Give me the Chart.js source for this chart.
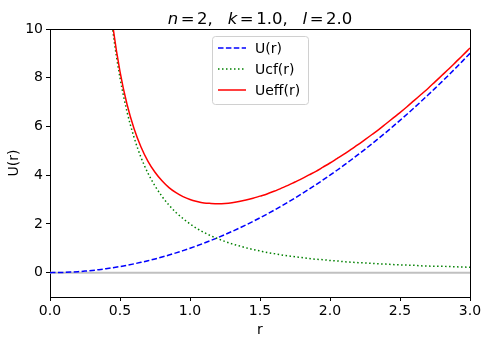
<!DOCTYPE html>
<html><head><meta charset="utf-8">
<script src="https://cdn.jsdelivr.net/npm/chart.js@4/dist/chart.umd.min.js"></script>
<style>html,body{margin:0;padding:0;background:#fff}</style>
</head><body>
<canvas id="c" width="488" height="344"></canvas>
<script>
// ---- data ----
const rValues = [0,0.05,0.1,0.15,0.2,0.25,0.3,0.35,0.4,0.45,
  0.5,0.55,0.6,0.65,0.7,0.75,0.8,0.85,0.9,0.95,
  1.0,1.05,1.1,1.15,1.2,1.25,1.3,1.35,1.4,1.45,
  1.5,1.55,1.6,1.65,1.7,1.75,1.8,1.85,1.9,1.95,
  2.0,2.05,2.1,2.15,2.2,2.25,2.3,2.35,2.4,2.45,
  2.5,2.55,2.6,2.65,2.7,2.75,2.8,2.85,2.9,2.95,3.0];
const uValues = [0,0.0025,0.01,0.0225,0.04,0.0625,0.09,0.1225,0.16,0.2025,
  0.25,0.3025,0.36,0.4225,0.49,0.5625,0.64,0.7225,0.81,0.9025,
  1,1.1025,1.21,1.3225,1.44,1.5625,1.69,1.8225,1.96,2.1025,
  2.25,2.4025,2.56,2.7225,2.89,3.0625,3.24,3.4225,3.61,3.8025,
  4,4.2025,4.41,4.6225,4.84,5.0625,5.29,5.5225,5.76,6.0025,
  6.25,6.5025,6.76,7.0225,7.29,7.5625,7.84,8.1225,8.41,8.7025,9];
const ucfValues = [null,null,null,null,null,null,null,16.33,12.5,9.88,
  8.0,6.61,5.56,4.73,4.08,3.56,3.13,2.77,2.47,2.22,
  2.0,1.81,1.65,1.51,1.39,1.28,1.18,1.10,1.02,0.95,
  0.89,0.83,0.78,0.73,0.69,0.65,0.62,0.58,0.55,0.53,
  0.5,0.48,0.45,0.43,0.41,0.40,0.38,0.36,0.35,0.33,
  0.32,0.31,0.30,0.28,0.27,0.26,0.26,0.25,0.24,0.23,0.22];
const ueffValues = [null,null,null,null,null,null,null,16.45,12.66,10.08,
  8.25,6.91,5.92,5.16,4.57,4.12,3.77,3.49,3.28,3.12,
  3.0,2.92,2.86,2.84,2.83,2.84,2.87,2.92,2.98,3.05,
  3.14,3.23,3.34,3.46,3.58,3.72,3.86,4.01,4.16,4.33,
  4.5,4.68,4.86,5.06,5.25,5.46,5.67,5.88,6.11,6.34,
  6.57,6.81,7.06,7.31,7.56,7.83,8.10,8.37,8.65,8.93,9.22];
const baselineX = [0, 3];
const baselineY = [0, 0];
const seriesNames = ['U(r)', 'Ucf(r)', 'Ueff(r)'];
const xTicks = [0, 0.5, 1.0, 1.5, 2.0, 2.5, 3.0];
const yTicks = [0, 2, 4, 6, 8, 10];
const xLabel = 'r';
const yLabel = 'U(r)';
const titleParts = [['n', true], ['=', false], ['2,', false], ['k', true], ['=', false], ['1.0,', false], ['l', true], ['=', false], ['2.0', false]];

// ---- chart ----
const FONT = "'DejaVu Sans', sans-serif";
const pts = (xs, ys) => xs.map((x, i) => ({x: x, y: ys[i]}));

const titlePlugin = {
  id: 'mplTitle',
  afterDraw(chart) {
    const ctx = chart.ctx;
    const gaps = [2.5, 2.5, 15, 2.5, 2.5, 15, 2.5, 2.5, 0];
    const size = 16.5;
    ctx.save();
    ctx.fillStyle = '#000';
    ctx.textBaseline = 'alphabetic';
    ctx.textAlign = 'left';
    let total = 0;
    const widths = titleParts.map(([t, it], i) => {
      ctx.font = (it ? 'italic ' : '') + size + 'px ' + FONT;
      const w = ctx.measureText(t).width;
      total += w + gaps[i];
      return w;
    });
    const ca = chart.chartArea;
    let x = (ca.left + ca.right) / 2 - total / 2;
    const y = ca.top - 5;
    titleParts.forEach(([t, it], i) => {
      ctx.font = (it ? 'italic ' : '') + size + 'px ' + FONT;
      ctx.fillText(t, x, y);
      x += widths[i] + gaps[i];
    });
    ctx.restore();
  }
};

const framePlugin = {
  id: 'frame',
  afterDraw(chart) {
    const ctx = chart.ctx, ca = chart.chartArea;
    ctx.save();
    ctx.strokeStyle = '#000';
    ctx.lineWidth = 1;
    ctx.beginPath();
    ctx.moveTo(ca.left, ca.top + 0.5);
    ctx.lineTo(ca.right + 0.5, ca.top + 0.5);
    ctx.lineTo(ca.right + 0.5, ca.bottom);
    ctx.stroke();
    ctx.restore();
  }
};

const legendPlugin = {
  id: 'mplLegend',
  afterDraw(chart) {
    const ctx = chart.ctx, ca = chart.chartArea;
    const w = 96, h = 68;
    const left = (ca.left + ca.right) / 2 - w / 2;
    const top = ca.top + 7;
    ctx.save();
    ctx.beginPath();
    if (ctx.roundRect) ctx.roundRect(left + 0.5, top + 0.5, w, h, 3); else ctx.rect(left + 0.5, top + 0.5, w, h);
    ctx.fillStyle = 'rgba(255,255,255,0.8)';
    ctx.fill();
    ctx.strokeStyle = '#d0d0d0';
    ctx.lineWidth = 1;
    ctx.stroke();
    seriesNames.forEach((name, i) => {
      const d = chart.data.datasets.find(ds => ds.label === name);
      const y = top + 12 + i * 21;
      ctx.beginPath();
      ctx.setLineDash(d.borderDash || []);
      ctx.strokeStyle = d.borderColor;
      ctx.lineWidth = d.borderWidth;
      ctx.moveTo(left + 6, y);
      ctx.lineTo(left + 34, y);
      ctx.stroke();
      ctx.setLineDash([]);
      ctx.fillStyle = '#000';
      ctx.font = '14px ' + FONT;
      ctx.textBaseline = 'middle';
      ctx.textAlign = 'left';
      ctx.fillText(name, left + 43, y + 1);
    });
    ctx.restore();
  }
};

const tickFont = {family: FONT, size: 14};
new Chart(document.getElementById('c'), {
  type: 'line',
  data: {
    datasets: [
      {label: seriesNames[2], data: pts(rValues, ueffValues), borderColor: '#ff0000', borderWidth: 1.5, order: 0},
      {label: seriesNames[1], data: pts(rValues, ucfValues), borderColor: '#008000', borderWidth: 1.5, borderDash: [1.5, 2.5], order: 1},
      {label: seriesNames[0], data: pts(rValues, uValues), borderColor: '#0000ff', borderWidth: 1.5, borderDash: [5.5, 2.4], order: 2},
      {label: 'zero', data: pts(baselineX, baselineY), borderColor: '#c0c0c0', borderWidth: 2, order: 3}
    ]
  },
  options: {
    responsive: false,
    animation: false,
    devicePixelRatio: 1,
    spanGaps: false,
    elements: {point: {radius: 0, hoverRadius: 0}, line: {tension: 0, cubicInterpolationMode: 'monotone', fill: false}},
    layout: {padding: {top: 29, right: 18, left: 0, bottom: 0}},
    plugins: {legend: {display: false}, title: {display: false}, tooltip: {enabled: false}},
    events: [],
    scales: {
      x: {
        type: 'linear', min: 0, max: 3,
        afterBuildTicks: s => { s.ticks = xTicks.map(v => ({value: v})); },
        afterFit: s => { s.height = 47; },
        ticks: {font: tickFont, color: '#000', padding: 2, maxRotation: 0, autoSkip: false, callback: v => Number(v).toFixed(1)},
        grid: {display: true, drawOnChartArea: false, drawTicks: true, tickLength: 4, tickColor: '#000', tickWidth: 1},
        border: {display: true, color: '#000', width: 1},
        title: {display: true, text: xLabel, color: '#000', font: {family: FONT, size: 14}, padding: {top: 0, bottom: 5}}
      },
      y: {
        type: 'linear', min: -1, max: 10,
        afterBuildTicks: s => { s.ticks = yTicks.map(v => ({value: v})); },
        afterFit: s => { s.width = 50; },
        ticks: {font: tickFont, color: '#000', padding: 3, autoSkip: false, callback: v => String(v)},
        grid: {display: true, drawOnChartArea: false, drawTicks: true, tickLength: 4, tickColor: '#000', tickWidth: 1},
        border: {display: true, color: '#000', width: 1},
        title: {display: true, text: yLabel, color: '#000', font: {family: FONT, size: 14}, padding: {top: 6, bottom: 0}}
      }
    }
  },
  plugins: [titlePlugin, framePlugin, legendPlugin]
});
</script>
</body></html>
